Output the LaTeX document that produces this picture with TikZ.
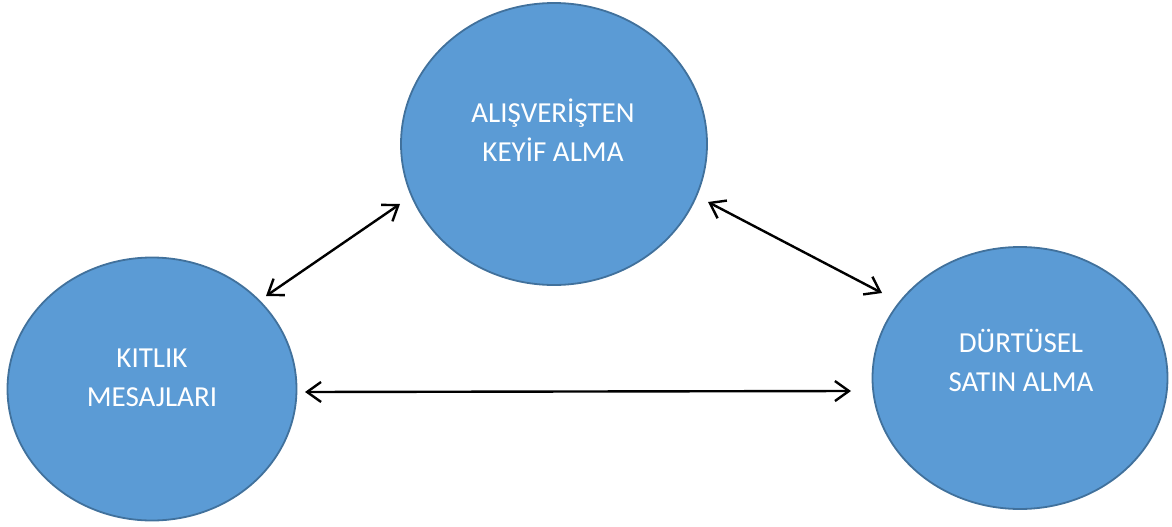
\documentclass[tikz,border=0pt]{standalone}
\usepackage{fontspec}
\setmainfont{Carlito}
\usetikzlibrary{arrows.meta,shapes.geometric}
\definecolor{fillb}{HTML}{5B9BD5}
\definecolor{edgeb}{HTML}{41719C}
\begin{document}
\begin{tikzpicture}[x=1pt,y=-1pt,
  bubble/.style={ellipse, draw=edgeb, fill=fillb, line width=1.8pt, inner sep=0pt},
  lbl/.style={text=white, align=center, anchor=base, inner sep=0pt, font=\fontsize{29}{39}\selectfont},
  link/.style={{Straight Barb[length=14pt,width=20pt]}-{Straight Barb[length=14pt,width=20pt]}, line width=2.4pt, black}
]
\useasboundingbox (0,0) rectangle (1172,527);
\node[bubble, minimum width=306pt, minimum height=282pt] (top) at (554,144) {};
\node[bubble, minimum width=289pt, minimum height=263pt] (left) at (152,389) {};
\node[bubble, minimum width=295pt, minimum height=262pt] (right) at (1020,378) {};
\node[lbl] (topT) at (553,161) {ALIŞVERİŞTEN\\KEYİF ALMA};
\node[lbl] (leftT) at (152,406) {KITLIK\\MESAJLARI};
\node[lbl] (rightT) at (1021,391) {DÜRTÜSEL\\SATIN ALMA};
\coordinate (a1) at (266,296);
\coordinate (a2) at (400,204);
\coordinate (b1) at (708,202);
\coordinate (b2) at (882,293);
\coordinate (c1) at (305,392);
\coordinate (c2) at (851,391);
\draw[link] (a1) -- (a2);
\draw[link] (b1) -- (b2);
\draw[link] (c1) -- (c2);
\end{tikzpicture}
\end{document}
